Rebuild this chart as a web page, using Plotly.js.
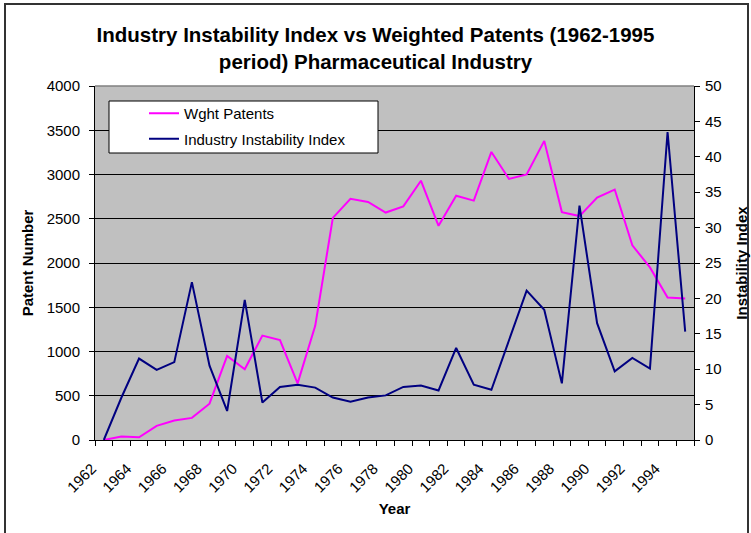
<!DOCTYPE html>
<html>
<head>
<meta charset="utf-8">
<script src="https://cdn.plot.ly/plotly-3.0.1.min.js"></script>
<style>
html,body{margin:0;padding:0;background:#fff;}
#chart{width:751px;height:533px;}
</style>
</head>
<body>
<div id="chart"></div>
<script>
// ---- data ----
const years = [1962,1963,1964,1965,1966,1967,1968,1969,1970,1971,1972,1973,1974,1975,1976,1977,1978,
               1979,1980,1981,1982,1983,1984,1985,1986,1987,1988,1989,1990,1991,1992,1993,1994,1995];
const wghtPatents = [0,40,30,160,220,250,410,950,800,1180,1130,640,1290,2510,2725,2690,2570,
                     2640,2930,2420,2760,2705,3255,2950,3000,3380,2575,2530,2740,2830,2200,1950,1610,1600];
const instabilityIndex = [0,6,11.5,9.9,11,22.3,10.5,4.1,19.8,5.3,7.5,7.8,7.4,6.0,5.4,6.0,6.3,
                          7.5,7.7,7.0,13.0,7.8,7.1,14.0,21.1,18.4,8.0,33.1,16.5,9.7,11.6,10.1,43.5,15.3];
const xTickYears = [1962,1964,1966,1968,1970,1972,1974,1976,1978,1980,1982,1984,1986,1988,1990,1992,1994];
const seriesNames = ['Wght Patents','Industry Instability Index'];
const titleText = 'Industry Instability Index vs Weighted Patents (1962-1995<br>period) Pharmaceutical Industry';

// ---- layout geometry (px) ----
const W = 751, H = 533;
const L = 95, R = 694, T = 86, B = 440;
const pw = R - L, ph = B - T;
const px = v => (v - L) / pw;
const py = v => (B - v) / ph;
const FONT = 'Liberation Sans, Arial, sans-serif';

const traces = [
  {x: years, y: wghtPatents, name: seriesNames[0], type: 'scatter', mode: 'lines',
   line: {color: '#FF00FF', width: 2}, yaxis: 'y', legendgroup: 'a'},
  {x: years, y: instabilityIndex, name: seriesNames[1], type: 'scatter', mode: 'lines',
   line: {color: '#000080', width: 2}, yaxis: 'y2', legendgroup: 'b'}
];

const layout = {
  width: W, height: H,
  margin: {l: L, r: W - R, t: T, b: H - B, pad: 0},
  paper_bgcolor: '#FFFFFF',
  plot_bgcolor: '#C0C0C0',
  font: {family: FONT, size: 15, color: '#000'},
  title: {text: titleText, x: 0.5, xref: 'container', xanchor: 'center',
          y: 1 - 42 / H, yref: 'container', yanchor: 'top',
          font: {family: FONT, size: 20.5, color: '#000', weight: 'bold'}},
  showlegend: true,
  legend: {x: px(144), y: py(97), xanchor: 'left', yanchor: 'top',
           bgcolor: 'rgba(0,0,0,0)', borderwidth: 0,
           traceorder: 'grouped', tracegroupgap: 3,
           font: {family: FONT, size: 15, color: '#000'}},
  xaxis: {
    range: [1961.5, 1995.5], fixedrange: true,
    tickmode: 'array', tickvals: xTickYears, ticktext: xTickYears.map(String),
    tickangle: -45, ticks: '', showgrid: false, zeroline: false,
    showline: true, linecolor: '#000', linewidth: 1,
    tickfont: {family: FONT, size: 15, color: '#000'},
    ticklabelshift: -12, ticklabelstandoff: 13,
    minor: {tickmode: 'linear', tick0: 1961.5, dtick: 1, ticks: 'outside', ticklen: 5,
            tickcolor: '#000', tickwidth: 1, showgrid: false},
    title: {text: 'Year', standoff: 8, font: {family: FONT, size: 15, weight: 'bold', color: '#000'}}
  },
  yaxis: {
    range: [0, 4000], tickmode: 'linear', tick0: 0, dtick: 500,
    ticks: 'outside', ticklen: 5, tickcolor: '#000',
    showgrid: true, gridcolor: '#000', gridwidth: 1, zeroline: false,
    showline: true, linecolor: '#000', linewidth: 1,
    tickfont: {family: FONT, size: 15, color: '#000'},
    ticklabelstandoff: 6,
    title: {text: 'Patent Number', standoff: 9, font: {family: FONT, size: 15, weight: 'bold', color: '#000'}}
  },
  yaxis2: {
    range: [0, 50], tickmode: 'linear', tick0: 0, dtick: 5,
    overlaying: 'y', side: 'right',
    ticks: 'outside', ticklen: 5, tickcolor: '#000',
    showgrid: false, zeroline: false,
    showline: true, linecolor: '#000', linewidth: 1,
    tickfont: {family: FONT, size: 15, color: '#000'},
    ticklabelstandoff: 2,
    title: {text: 'Instability Index', standoff: 15, font: {family: FONT, size: 15, weight: 'bold', color: '#000'}}
  },
  shapes: [
    // top border of plot area (grey)
    {type: 'line', xref: 'paper', yref: 'paper', x0: 0, x1: 1, y0: 1, y1: 1,
     line: {color: '#808080', width: 1.5}, layer: 'above'},
    // legend box
    {type: 'rect', xref: 'paper', yref: 'paper', x0: px(109), x1: px(378), y0: py(153), y1: py(101),
     fillcolor: '#FFFFFF', line: {color: '#000', width: 1}, layer: 'above'},
    // outer chart frame
    {type: 'rect', xref: 'paper', yref: 'paper', x0: px(5), x1: px(748), y0: py(545), y1: py(4),
     fillcolor: 'rgba(0,0,0,0)', line: {color: '#333', width: 2}, layer: 'above'}
  ]
};

Plotly.newPlot('chart', traces, layout, {staticPlot: true, displayModeBar: false});
</script>
</body>
</html>
